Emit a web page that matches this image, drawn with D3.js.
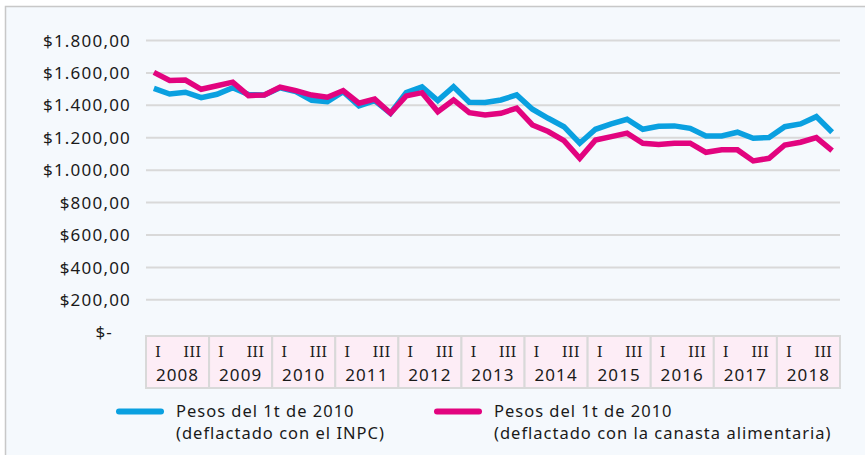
<!DOCTYPE html>
<html>
<head>
<meta charset="utf-8">
<script src="https://cdn.jsdelivr.net/npm/d3@7"></script>
<style>
  body { margin: 0; background: #ffffff; }
  .ytick text { font-family: "Noto Sans", sans-serif; font-size: 17px; fill: #1a1a1a; letter-spacing: 1.2px; }
  .grid line { stroke: #d9d9d9; stroke-width: 2px; }
  .grid path { display: none; }
  .qlab { font-family: "DejaVu Serif", serif; font-size: 15px; fill: #1a1a1a; }
  .ylab { font-family: "Noto Sans", sans-serif; font-size: 17px; fill: #1a1a1a; letter-spacing: 1.1px; }
  .legend text { font-family: "Noto Sans", sans-serif; font-size: 16.5px; fill: #1a1a1a; letter-spacing: 1px; }
</style>
</head>
<body>
<svg id="chart" width="865" height="455"></svg>
<script>
// years and quarters shown in the category boxes
var years = ["2008", "2009", "2010", "2011", "2012", "2013", "2014", "2015", "2016", "2017", "2018"];
var quarters = ["I", "II", "III", "IV"];
var yTicks = [0, 200, 400, 600, 800, 1000, 1200, 1400, 1600, 1800];

// Pesos del 1t de 2010 (deflactado con el INPC)
var inpc = [1502, 1467, 1478, 1444, 1465, 1506, 1463, 1461, 1505, 1481, 1428,
            1420, 1481, 1393, 1426, 1348, 1475, 1510, 1426, 1512, 1416, 1414,
            1430, 1461, 1373, 1317, 1265, 1163, 1249, 1282, 1311, 1249, 1268,
            1270, 1255, 1208, 1208, 1231, 1194, 1198, 1265, 1282, 1327, 1231];

// Pesos del 1t de 2010 (deflactado con la canasta alimentaria)
var canasta = [1600, 1550, 1553, 1496, 1518, 1540, 1457, 1461, 1509, 1488, 1460,
               1447, 1488, 1410, 1435, 1348, 1455, 1475, 1358, 1430, 1352, 1338,
               1348, 1379, 1276, 1235, 1179, 1070, 1183, 1204, 1225, 1163, 1155,
               1163, 1163, 1107, 1122, 1122, 1054, 1070, 1152, 1169, 1198, 1117];

var seriesNames = [
  ["Pesos del 1t de 2010", "(deflactado con el INPC)"],
  ["Pesos del 1t de 2010", "(deflactado con la canasta alimentaria)"]
];
var colors = ["#0aa0e0", "#e2047f"];

// one entry per quarter
var periods = [];
years.forEach(function (y) {
  quarters.forEach(function (q) { periods.push(y + "-" + q); });
});

var svg = d3.select("#chart");

// frame
svg.append("rect")
  .attr("x", 5.5).attr("y", 6.5)
  .attr("width", 870).attr("height", 460)
  .attr("fill", "#f5f9fd")
  .attr("stroke", "#c8c8c8")
  .attr("stroke-width", 1.5);

var left = 146, right = 840;
var x = d3.scaleBand().domain(periods).range([left, right]).padding(0);
var xYear = d3.scaleBand().domain(years).range([left, right]).padding(0);
var y = d3.scaleLinear().domain([0, 1800]).range([331.7, 40]);

var loc = d3.formatLocale({ decimal: ",", thousands: ".", grouping: [3], currency: ["$", ""] });
var fmt = loc.format("$,.2f");

// gridlines (no line at zero)
svg.append("g")
  .attr("class", "grid")
  .attr("transform", "translate(" + left + ",0)")
  .call(d3.axisLeft(y).tickValues(yTicks.filter(function (d) { return d > 0; }))
    .tickSize(-(right - left)).tickFormat(""));

// y labels
var yAxis = svg.append("g")
  .attr("class", "ytick")
  .attr("transform", "translate(131,0)")
  .call(d3.axisLeft(y).tickValues(yTicks).tickSize(0).tickPadding(0)
    .tickFormat(function (d) { return d === 0 ? "$-" : fmt(d); }));
yAxis.select(".domain").remove();
yAxis.selectAll("text")
  .attr("dy", "0.36em")
  .attr("x", function (d) { return d === 0 ? -18 : 0; });

// category boxes
var box = svg.append("g");
box.selectAll("rect")
  .data(years).enter().append("rect")
  .attr("x", function (d) { return xYear(d); })
  .attr("y", 336)
  .attr("width", xYear.bandwidth())
  .attr("height", 52)
  .attr("fill", "#fdedf6")
  .attr("stroke", "#d9d9d9")
  .attr("stroke-width", 2);

box.selectAll(".q1")
  .data(years).enter().append("text")
  .attr("class", "qlab")
  .attr("x", function (d) { return xYear(d) + 9; })
  .attr("y", 357)
  .text("I");
box.selectAll(".q3")
  .data(years).enter().append("text")
  .attr("class", "qlab")
  .attr("text-anchor", "end")
  .attr("x", function (d) { return xYear(d) + xYear.bandwidth() - 8; })
  .attr("y", 357)
  .text("III");
box.selectAll(".yr")
  .data(years).enter().append("text")
  .attr("class", "ylab")
  .attr("text-anchor", "middle")
  .attr("x", function (d) { return xYear(d) + xYear.bandwidth() / 2; })
  .attr("y", 381)
  .text(function (d) { return d; });

// lines
var line = d3.line()
  .x(function (d, i) { return x(periods[i]) + x.bandwidth() / 2; })
  .y(function (d) { return y(d); });

[inpc, canasta].forEach(function (s, k) {
  svg.append("path")
    .datum(s)
    .attr("fill", "none")
    .attr("stroke", colors[k])
    .attr("stroke-width", 5.5)
    .attr("stroke-linejoin", "miter")
    .attr("d", line);
});

// legend
var legend = svg.append("g").attr("class", "legend");
var legX = [119, 437];
seriesNames.forEach(function (n, k) {
  var g = legend.append("g").attr("transform", "translate(" + legX[k] + ",0)");
  g.append("line")
    .attr("x1", 0).attr("x2", 42)
    .attr("y1", 411.5).attr("y2", 411.5)
    .attr("stroke", colors[k])
    .attr("stroke-width", 6)
    .attr("stroke-linecap", "round");
  g.append("text").attr("x", 57).attr("y", 417).text(n[0]);
  g.append("text").attr("x", 57).attr("y", 439).text(n[1]);
});
</script>
</body>
</html>
